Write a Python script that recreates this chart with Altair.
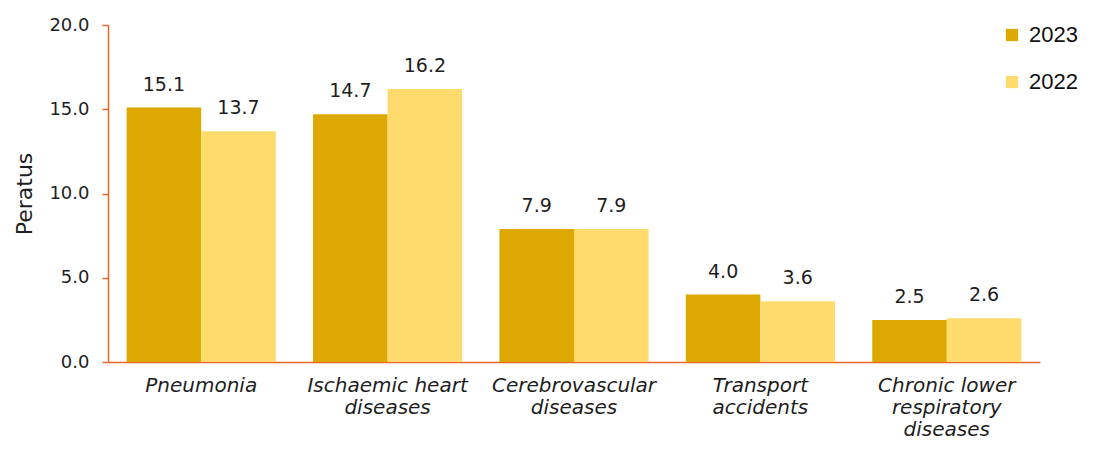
import altair as alt
import pandas as pd

categories = ["Pneumonia", "Ischaemic heart\ndiseases", "Cerebrovascular\ndiseases",
              "Transport\naccidents", "Chronic lower\nrespiratory\ndiseases"]
years = ["2023", "2022"]
values_2023 = [15.1, 14.7, 7.9, 4.0, 2.5]
values_2022 = [13.7, 16.2, 7.9, 3.6, 2.6]
colors = ["#DDA800", "#FFDB6E"]

rows = []
for c, a, b in zip(categories, values_2023, values_2022):
    rows.append({"cat": c, "year": "2023", "value": a})
    rows.append({"cat": c, "year": "2022", "value": b})
df = pd.DataFrame(rows)

axis_color = "#E8652E"
font = "DejaVu Sans"
txt = "#1e1e1e"

base = alt.Chart(df).encode(
    x=alt.X("cat:N", sort=categories, title=None,
            scale=alt.Scale(paddingInner=0.2, paddingOuter=0.1),
            axis=alt.Axis(labelAngle=0, labelExpr="split(datum.label, '\\n')",
                          labelFontStyle="italic", labelFontSize=20, labelFont=font,
                          labelColor=txt, labelPadding=13, labelLineHeight=22,
                          ticks=False, domainColor=axis_color, domainWidth=1.5,
                          labelBaseline="top")),
    xOffset=alt.XOffset("year:N", sort=years),
)

bars = base.mark_bar().encode(
    y=alt.Y("value:Q", title="Peratus",
            scale=alt.Scale(domain=[0, 20]),
            axis=alt.Axis(values=[0, 5, 10, 15, 20], format=".1f", grid=False,
                          domainColor=axis_color, tickColor=axis_color, tickSize=6,
                          domainWidth=1.5, tickWidth=1.5,
                          labelFontSize=18, labelFont=font, labelColor=txt,
                          labelPadding=13, titleFontSize=22, titleFont=font,
                          titleFontWeight="normal", titleColor=txt, titlePadding=12)),
    color=alt.Color("year:N", sort=years,
                    scale=alt.Scale(domain=years, range=colors),
                    legend=alt.Legend(title=None, orient="none", legendX=893, legendY=-1,
                                      symbolType="square", symbolSize=150,
                                      symbolStrokeWidth=0,
                                      labelFontSize=22, labelFont="Liberation Sans",
                                      labelColor="#111", rowPadding=25, labelOffset=6)),
)

labels = base.mark_text(dy=-17, baseline="alphabetic", fontSize=19, font=font, color=txt).encode(
    y=alt.Y("value:Q"),
    text=alt.Text("value:Q", format=".1f"),
)

chart = (bars + labels).properties(
    width=932, height=337,
    autosize=alt.AutoSizeParams(type="none"),
    padding={"left": 100, "top": 17, "right": 45, "bottom": 80},
).configure_view(stroke=None)

chart.save("out.html", embed_options={"renderer": "svg", "actions": False})
